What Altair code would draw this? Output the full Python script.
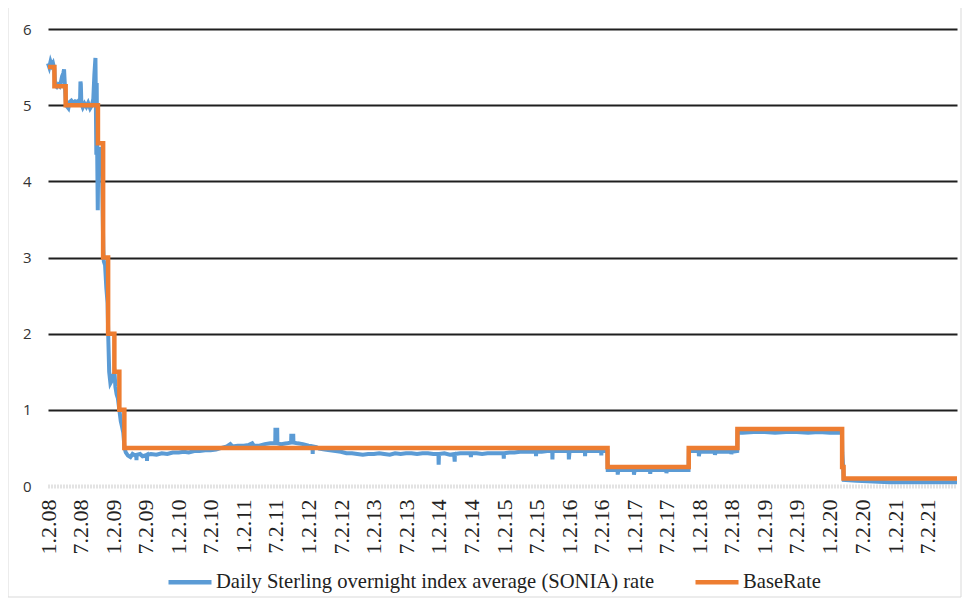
import altair as alt
import pandas as pd

SONIA = "Daily Sterling overnight index average (SONIA) rate"
BASE = "BaseRate"

# SONIA readings, split by period (date, rate)
sonia_2008_dates = [
    "2008-01-02", "2008-01-09", "2008-01-16", "2008-01-23", "2008-01-30", "2008-02-06", "2008-02-11",
    "2008-02-20", "2008-02-28", "2008-03-07", "2008-03-14", "2008-03-21", "2008-03-28", "2008-04-01",
    "2008-04-04", "2008-04-11", "2008-04-18", "2008-04-25", "2008-05-02", "2008-05-12", "2008-05-22",
    "2008-06-02", "2008-06-12", "2008-06-23", "2008-06-30", "2008-07-02", "2008-07-04", "2008-07-07",
    "2008-07-15", "2008-07-25", "2008-08-04", "2008-08-14", "2008-08-25", "2008-09-04", "2008-09-12",
    "2008-09-18", "2008-09-24", "2008-09-29", "2008-10-01", "2008-10-03", "2008-10-07", "2008-10-10",
    "2008-10-17", "2008-10-24", "2008-10-31", "2008-11-07", "2008-11-10", "2008-11-17", "2008-11-24",
    "2008-12-01", "2008-12-05", "2008-12-10", "2008-12-17", "2008-12-24", "2008-12-31",
]
sonia_2008_values = [
    5.55, 5.50, 5.57, 5.52, 5.55, 5.48, 5.26,
    5.24, 5.27, 5.25, 5.30, 5.38, 5.42, 5.47,
    5.33, 5.05, 4.98, 4.96, 5.04, 5.06, 5.03,
    5.05, 5.04, 5.06, 5.08, 5.31, 5.28, 5.02,
    4.97, 5.02, 4.98, 5.03, 4.96, 5.00, 5.08,
    5.40, 5.62, 4.35, 5.29, 4.60, 3.62, 4.40,
    4.45, 4.30, 4.10, 3.10, 2.95, 2.90, 2.60,
    2.40, 1.95, 1.50, 1.35, 1.38, 1.45,
]

sonia_2009_2012_dates = [
    "2009-01-09", "2009-01-14", "2009-01-21", "2009-01-28", "2009-02-06", "2009-02-13", "2009-02-20",
    "2009-02-27", "2009-03-06", "2009-03-13", "2009-03-25", "2009-04-08", "2009-04-20", "2009-05-05",
    "2009-05-11", "2009-05-12", "2009-05-13", "2009-06-01", "2009-06-15", "2009-07-01", "2009-07-09",
    "2009-07-10", "2009-07-11", "2009-08-01", "2009-09-01", "2009-10-01", "2009-11-01", "2009-12-01",
    "2010-01-04", "2010-02-01", "2010-03-01", "2010-04-01", "2010-05-01", "2010-06-01", "2010-07-01",
    "2010-08-01", "2010-09-01", "2010-10-01", "2010-10-20", "2010-11-01", "2010-12-01", "2011-01-04",
    "2011-02-01", "2011-02-20", "2011-03-01", "2011-04-01", "2011-05-01", "2011-06-01", "2011-06-29",
    "2011-06-30", "2011-07-10", "2011-07-11", "2011-08-01", "2011-09-01", "2011-09-26", "2011-09-27",
    "2011-10-08", "2011-10-09", "2011-11-01", "2011-12-01", "2012-01-02", "2012-01-24", "2012-01-25",
    "2012-01-26", "2012-02-15", "2012-03-01", "2012-04-01", "2012-05-01", "2012-06-01", "2012-07-01",
    "2012-08-01", "2012-09-01", "2012-10-01", "2012-11-01", "2012-12-01",
]
sonia_2009_2012_values = [
    1.48, 1.30, 1.20, 1.15, 0.98, 0.85, 0.78,
    0.70, 0.50, 0.44, 0.40, 0.38, 0.42, 0.40,
    0.40, 0.34, 0.41, 0.42, 0.39, 0.40, 0.41,
    0.33, 0.41, 0.42, 0.41, 0.43, 0.42, 0.44,
    0.44, 0.45, 0.44, 0.46, 0.46, 0.47, 0.47,
    0.48, 0.50, 0.52, 0.55, 0.52, 0.53, 0.53,
    0.54, 0.56, 0.53, 0.53, 0.55, 0.56, 0.56,
    0.74, 0.74, 0.56, 0.55, 0.56, 0.57, 0.66,
    0.66, 0.57, 0.56, 0.55, 0.53, 0.52, 0.42,
    0.52, 0.51, 0.49, 0.48, 0.47, 0.46, 0.45,
    0.43, 0.43, 0.42, 0.41, 0.42,
]

sonia_2013_2016_dates = [
    "2013-01-02", "2013-02-01", "2013-03-01", "2013-04-01", "2013-05-01", "2013-06-01", "2013-07-01",
    "2013-08-01", "2013-09-01", "2013-10-01", "2013-11-01", "2013-12-01", "2013-12-30", "2013-12-31",
    "2014-01-02", "2014-02-01", "2014-03-03", "2014-03-28", "2014-03-31", "2014-04-01", "2014-05-01",
    "2014-06-01", "2014-06-27", "2014-06-30", "2014-07-01", "2014-08-01", "2014-09-01", "2014-10-01",
    "2014-11-01", "2014-12-01", "2014-12-30", "2014-12-31", "2015-01-02", "2015-02-01", "2015-03-01",
    "2015-04-01", "2015-05-01", "2015-06-01", "2015-06-29", "2015-06-30", "2015-07-01", "2015-08-01",
    "2015-09-01", "2015-09-29", "2015-09-30", "2015-10-01", "2015-11-01", "2015-12-01", "2015-12-30",
    "2015-12-31", "2016-01-04", "2016-02-01", "2016-03-01", "2016-03-30", "2016-03-31", "2016-04-01",
    "2016-05-01", "2016-06-01", "2016-06-29", "2016-06-30", "2016-07-01", "2016-08-03",
]
sonia_2013_2016_values = [
    0.42, 0.43, 0.42, 0.41, 0.43, 0.42, 0.43,
    0.43, 0.42, 0.43, 0.43, 0.42, 0.42, 0.28,
    0.42, 0.43, 0.41, 0.42, 0.32, 0.42, 0.43,
    0.43, 0.43, 0.38, 0.43, 0.43, 0.42, 0.43,
    0.43, 0.43, 0.43, 0.36, 0.43, 0.44, 0.44,
    0.45, 0.45, 0.45, 0.45, 0.39, 0.45, 0.45,
    0.46, 0.46, 0.35, 0.46, 0.46, 0.46, 0.46,
    0.35, 0.46, 0.46, 0.46, 0.46, 0.39, 0.46,
    0.46, 0.46, 0.46, 0.40, 0.46, 0.46,
]

sonia_2016_2021_dates = [
    "2016-08-05", "2016-09-01", "2016-09-29", "2016-09-30", "2016-10-03", "2016-11-01", "2016-12-01",
    "2016-12-29", "2016-12-30", "2017-01-03", "2017-02-01", "2017-03-01", "2017-03-30", "2017-03-31",
    "2017-04-03", "2017-05-01", "2017-06-01", "2017-06-29", "2017-06-30", "2017-07-03", "2017-08-01",
    "2017-09-01", "2017-10-01", "2017-11-01", "2017-11-03", "2017-12-01", "2017-12-28", "2017-12-29",
    "2018-01-02", "2018-02-01", "2018-03-01", "2018-03-28", "2018-03-29", "2018-04-03", "2018-05-01",
    "2018-06-01", "2018-06-28", "2018-06-29", "2018-07-02", "2018-08-01", "2018-08-03", "2018-09-01",
    "2018-11-01", "2019-01-02", "2019-03-01", "2019-05-01", "2019-07-01", "2019-09-02", "2019-11-01",
    "2020-01-02", "2020-03-10", "2020-03-12", "2020-03-18", "2020-03-20", "2020-06-01", "2020-09-01",
    "2020-12-01", "2021-03-01", "2021-06-01", "2021-09-01", "2021-12-15",
]
sonia_2016_2021_values = [
    0.21, 0.21, 0.21, 0.15, 0.21, 0.21, 0.21,
    0.21, 0.15, 0.21, 0.21, 0.21, 0.21, 0.16,
    0.21, 0.21, 0.21, 0.21, 0.17, 0.21, 0.21,
    0.21, 0.21, 0.21, 0.46, 0.46, 0.46, 0.39,
    0.45, 0.45, 0.45, 0.45, 0.41, 0.45, 0.45,
    0.45, 0.45, 0.42, 0.45, 0.46, 0.71, 0.70,
    0.71, 0.71, 0.70, 0.71, 0.71, 0.70, 0.71,
    0.70, 0.70, 0.44, 0.20, 0.08, 0.07, 0.06,
    0.05, 0.05, 0.05, 0.05, 0.05,
]

base_dates = [
    "2008-01-02", "2008-02-07", "2008-04-10", "2008-10-08", "2008-11-06", "2008-12-04",
    "2009-01-08", "2009-02-05", "2009-03-05", "2016-08-04", "2017-11-02", "2018-08-02",
    "2020-03-11", "2020-03-19", "2021-12-15",
]
base_values = [5.5, 5.25, 5.0, 4.5, 3.0, 2.0, 1.5, 1.0, 0.5, 0.25, 0.5, 0.75, 0.25, 0.1, 0.1]

y_ticks = [0, 1, 2, 3, 4, 5, 6]
tick_years = list(range(2008, 2022))

sonia_dates = sonia_2008_dates + sonia_2009_2012_dates + sonia_2013_2016_dates + sonia_2016_2021_dates
sonia_values = sonia_2008_values + sonia_2009_2012_values + sonia_2013_2016_values + sonia_2016_2021_values

sonia_df = pd.DataFrame({"date": [d + "T00:00:00" for d in sonia_dates],
                         "rate": sonia_values, "series": SONIA})
base_df = pd.DataFrame({"date": [d + "T00:00:00" for d in base_dates],
                        "rate": base_values, "series": BASE})

tick_vals = []
for yr in tick_years:
    tick_vals.append(alt.DateTime(year=yr, month=1, date=2))
    tick_vals.append(alt.DateTime(year=yr, month=7, date=2))

W, H = 909, 457

x_enc = alt.X(
    "date:T",
    scale=alt.Scale(domain=[alt.DateTime(year=2008, month=1, date=2),
                            alt.DateTime(year=2021, month=12, date=15)], nice=False),
    axis=alt.Axis(
        title=None, values=tick_vals, format="%-m.%-d.%y", labelAngle=270,
        labelFont="Liberation Serif", labelFontSize=22, labelColor="#222",
        labelPadding=13, ticks=False, grid=False,
        domainColor="#c8c8c8", domainWidth=4, domainDash=[1, 2],
        labelOverlap=False, labelFlush=False,
    ),
)
y_enc = alt.Y(
    "rate:Q",
    scale=alt.Scale(domain=[0, 6], nice=False),
    axis=alt.Axis(
        title=None, values=y_ticks, domain=False, ticks=False,
        labelFont="Open Sans", labelFontSize=15, labelColor="#333", labelPadding=17,
        grid=True,
        gridColor={"condition": {"test": "datum.value === 0", "value": "transparent"},
                   "value": "#1f1f1f"},
        gridWidth=2,
    ),
)
color_scale = alt.Scale(domain=[SONIA, BASE], range=["#5B9BD5", "#ED7D31"])
legend = alt.Legend(
    title=None, orient="none", direction="horizontal", legendX=118, legendY=529,
    symbolType="stroke", symbolSize=1849, symbolStrokeWidth=4.5,
    labelFont="Liberation Serif", labelFontSize=20.6, labelColor="#222",
    labelOffset=2, columnPadding=31, labelLimit=600,
)

border = alt.Chart(pd.DataFrame({"k": [0]})).mark_rect(
    fill="transparent", stroke="#d9d9d9", strokeWidth=1
).encode(x=alt.value(-40), x2=alt.value(913), y=alt.value(-22), y2=alt.value(568))

sonia_line = alt.Chart(sonia_df).mark_line(strokeWidth=4, strokeJoin="miter").encode(
    x=x_enc, y=y_enc,
    color=alt.Color("series:N", scale=color_scale, legend=legend),
)
base_line = alt.Chart(base_df).mark_line(strokeWidth=4.5, interpolate="step-after").encode(
    x=x_enc, y=y_enc,
    color=alt.Color("series:N", scale=color_scale, legend=legend),
)

chart = alt.layer(border, sonia_line, base_line).properties(
    width=W, height=H,
    autosize=alt.AutoSizeParams(type="none"),
    padding={"left": 40, "top": 21, "right": 10, "bottom": 112},
    background="white",
).configure_view(stroke=None)

chart.save("out.html", embed_options={"renderer": "svg", "actions": False})
